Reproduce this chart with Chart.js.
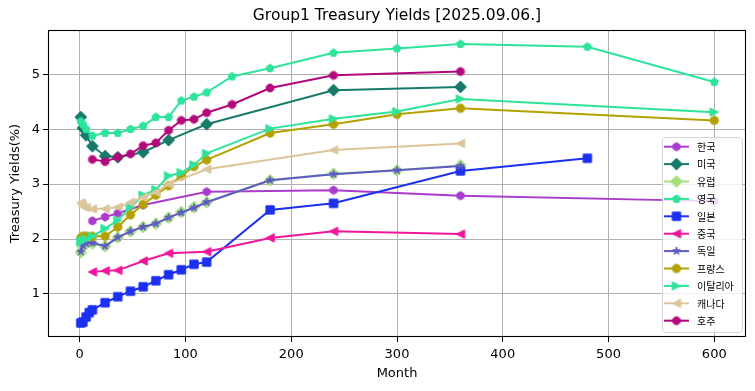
<!DOCTYPE html>
<html>
<head>
<meta charset="utf-8">
<script src="https://cdn.jsdelivr.net/npm/chart.js@4/dist/chart.umd.min.js"></script>
<style>
html,body{margin:0;padding:0;background:#fff;}
#wrap{width:755px;height:391px;}
</style>
</head>
<body>
<div id="wrap"><canvas id="c" width="755" height="391"></canvas></div>
<script>
// ---- data ----
const seriesNames = ['한국','미국','유럽','영국','일본','중국','독일','프랑스','이탈리아','캐나다','호주'];
const xTicks = [0,100,200,300,400,500,600];
const yTicks = [1,2,3,4,5];

const monthsKR = [12,24,36,60,120,240,360,600];
const yieldKR  = [2.33,2.40,2.47,2.62,2.86,2.89,2.79,2.69];

const monthsUS = [1,3,6,12,24,36,60,84,120,240,360];
const yieldUS  = [4.22,4.02,3.89,3.69,3.51,3.49,3.58,3.80,4.09,4.71,4.77];

const monthsEU = [1,3,6,12,24,36,48,60,72,84,96,108,120,180,240,300,360];
const yieldEU  = [1.76,1.86,1.91,1.92,1.87,2.03,2.14,2.22,2.28,2.39,2.49,2.58,2.67,3.07,3.19,3.25,3.34];

const monthsUK = [1,3,6,12,24,36,48,60,72,84,96,108,120,144,180,240,300,360,480,600];
const yieldUK  = [4.14,4.09,4.00,3.88,3.93,3.93,4.00,4.06,4.22,4.22,4.52,4.59,4.67,4.96,5.11,5.39,5.47,5.55,5.50,4.86];

const monthsJP = [1,3,6,9,12,24,36,48,60,72,84,96,108,120,180,240,360,480];
const yieldJP  = [0.47,0.49,0.58,0.66,0.71,0.84,0.95,1.05,1.13,1.24,1.35,1.44,1.54,1.58,2.53,2.65,3.24,3.47];

const monthsCN = [12,24,36,60,84,120,180,240,360];
const yieldCN  = [1.40,1.42,1.43,1.60,1.74,1.77,2.02,2.14,2.09];

const monthsDE = [1,3,6,12,24,36,48,60,72,84,96,108,120,180,240,300,360];
const yieldDE  = [1.77,1.88,1.92,1.93,1.87,2.03,2.14,2.22,2.28,2.39,2.48,2.57,2.67,3.07,3.18,3.25,3.33];

const monthsFR = [1,3,6,12,24,36,48,60,72,84,96,108,120,180,240,300,360,600];
const yieldFR  = [2.02,2.05,2.05,2.05,2.05,2.22,2.44,2.63,2.80,2.97,3.15,3.32,3.44,3.93,4.09,4.27,4.38,4.16];

const monthsIT = [1,3,6,12,24,36,48,60,72,84,96,108,120,180,240,300,360,600];
const yieldIT  = [1.95,1.97,2.00,2.05,2.19,2.34,2.58,2.80,2.90,3.15,3.21,3.35,3.56,4.01,4.19,4.32,4.55,4.31];

const monthsCA = [1,2,3,6,12,24,36,48,60,72,84,120,240,360];
const yieldCA  = [2.66,2.63,2.59,2.57,2.55,2.55,2.58,2.67,2.76,2.85,3.00,3.27,3.62,3.74];

const monthsAU = [12,24,36,48,60,72,84,96,108,120,144,180,240,360];
const yieldAU  = [3.45,3.41,3.49,3.55,3.70,3.75,3.98,4.16,4.18,4.30,4.45,4.75,4.98,5.05];

// ---- styles ----
const colors = ['#a93ccc','#177a6a','#a6e07e','#2ee39a','#1c30f0','#f0169a','#5e5ac6','#b3a100','#2ee39a','#dcc59b','#b2087c'];
const shapes = ['hexagon','diamond','diamond','pentagon','square','triLeft','star','circle','triRight','triLeft','octagon'];

const MS = 8.33, R = MS/2;
function polyPts(n, r, startDeg){
  const pts=[];
  for(let i=0;i<n;i++){const a=(startDeg+360*i/n)*Math.PI/180; pts.push([r*Math.cos(a), r*Math.sin(a)]);}
  return pts;
}
function makeMarker(shape, color){
  const S=16, c=document.createElement('canvas'); c.width=S; c.height=S;
  const g=c.getContext('2d'); g.translate(S/2,S/2);
  g.beginPath();
  let pts=null;
  if(shape==='circle'){ g.arc(0,0,R,0,Math.PI*2); }
  else if(shape==='diamond'){ const d=MS*Math.SQRT1_2; pts=[[0,-d],[d,0],[0,d],[-d,0]]; }
  else if(shape==='square'){ pts=[[-R,-R],[R,-R],[R,R],[-R,R]]; }
  else if(shape==='pentagon'){ pts=polyPts(5,R,-90); }
  else if(shape==='hexagon'){ pts=polyPts(6,R,-90); }
  else if(shape==='octagon'){ pts=polyPts(8,R,-90+22.5); }
  else if(shape==='star'){ pts=[]; for(let i=0;i<10;i++){const rr=i%2?R*0.381966:R; const a=(-90+36*i)*Math.PI/180; pts.push([rr*Math.cos(a),rr*Math.sin(a)]);} }
  else if(shape==='triLeft'){ pts=[[-R,0],[R,-R],[R,R]]; }
  else if(shape==='triRight'){ pts=[[R,0],[-R,-R],[-R,R]]; }
  if(pts){ g.moveTo(pts[0][0],pts[0][1]); for(let i=1;i<pts.length;i++) g.lineTo(pts[i][0],pts[i][1]); g.closePath(); }
  g.fillStyle=color; g.fill();
  g.lineWidth=1; g.strokeStyle=color; g.lineJoin='round'; g.stroke();
  return c;
}
const markers = shapes.map((s,i)=>makeMarker(s,colors[i]));

const monthsList = [monthsKR,monthsUS,monthsEU,monthsUK,monthsJP,monthsCN,monthsDE,monthsFR,monthsIT,monthsCA,monthsAU];
const yieldList  = [yieldKR,yieldUS,yieldEU,yieldUK,yieldJP,yieldCN,yieldDE,yieldFR,yieldIT,yieldCA,yieldAU];

const datasets = seriesNames.map((name,i)=>({
  label: name,
  data: monthsList[i].map((m,j)=>({x:m, y:yieldList[i][j]})),
  borderColor: colors[i],
  backgroundColor: colors[i],
  borderWidth: 2,
  pointStyle: markers[i],
  pointRadius: 5,
  pointHoverRadius: 5,
  tension: 0,
  fill: false,
  order: seriesNames.length - i
}));

const framePlugin = {
  id:'frame',
  afterDatasetsDraw(chart){
    const {ctx, chartArea:a} = chart;
    ctx.save(); ctx.strokeStyle='#000'; ctx.lineWidth=1.1;
    ctx.strokeRect(Math.round(a.left)+0.5, Math.round(a.top)+0.5, Math.round(a.right-a.left)-1, Math.round(a.bottom-a.top)-1);
    ctx.restore();
  }
};

const legendPlugin = {
  id:'mplLegend',
  afterDraw(chart){
    const ctx = chart.ctx;
    const bx=662, by=137, bw=80, bh=195;
    ctx.save();
    ctx.globalAlpha=0.8; ctx.fillStyle='#fff';
    ctx.beginPath(); if(ctx.roundRect) ctx.roundRect(bx,by,bw,bh,3); else ctx.rect(bx,by,bw,bh); ctx.fill();
    ctx.globalAlpha=1; ctx.strokeStyle='#d6d6d6'; ctx.lineWidth=1;
    ctx.beginPath(); if(ctx.roundRect) ctx.roundRect(bx+0.5,by+0.5,bw,bh,3); else ctx.rect(bx+0.5,by+0.5,bw,bh); ctx.stroke();
    ctx.font='10px "Noto Sans CJK KR", sans-serif'; ctx.textBaseline='middle'; ctx.fillStyle='#000';
    seriesNames.forEach((name,i)=>{
      const y = 146.7 + i*17.4;
      ctx.strokeStyle=colors[i]; ctx.lineWidth=2;
      ctx.beginPath(); ctx.moveTo(664,y); ctx.lineTo(689,y); ctx.stroke();
      const mk=markers[i]; ctx.drawImage(mk, 676.5-mk.width/2, y-mk.height/2);
      ctx.fillStyle='#000'; ctx.fillText(name, 697, y+0.5);
    });
    ctx.restore();
  }
};

const tickFont = {family:'"DejaVu Sans", sans-serif', size:13};
new Chart(document.getElementById('c'), {
  type:'line',
  data:{datasets},
  options:{
    responsive:false, animation:false, devicePixelRatio:1,
    layout:{padding:{left:0,right:9,top:0,bottom:0}},
    plugins:{
      legend:{display:false},
      tooltip:{enabled:false},
      title:{display:true, fullSize:false, text:'Group1 Treasury Yields [2025.09.06.]', color:'#000',
        font:{family:'"DejaVu Sans", sans-serif', size:15.5, weight:'normal'}, padding:{top:7,bottom:4.5}}
    },
    scales:{
      x:{type:'linear', min:-30, max:630,
        afterBuildTicks(s){ s.ticks = xTicks.map(v=>({value:v})); },
        afterFit(s){ s.height = 54; },
        grid:{color:'#b0b0b0', lineWidth:1, tickColor:'#000', tickLength:5, drawTicks:true},
        border:{display:false},
        ticks:{font:tickFont, color:'#000', padding:5, maxRotation:0},
        title:{display:true, text:'Month', color:'#000', font:tickFont, padding:{top:0,bottom:10}}
      },
      y:{type:'linear', min:0.216, max:5.804,
        afterBuildTicks(s){ s.ticks = yTicks.map(v=>({value:v})); },
        afterFit(s){ s.width = 48; },
        grid:{color:'#b0b0b0', lineWidth:1, tickColor:'#000', tickLength:5, drawTicks:true},
        border:{display:false},
        ticks:{font:tickFont, color:'#000', padding:3},
        title:{display:true, text:'Treasury Yields(%)', color:'#000', font:tickFont, padding:{top:8,bottom:0}}
      }
    }
  },
  plugins:[framePlugin, legendPlugin]
});
</script>
</body>
</html>
